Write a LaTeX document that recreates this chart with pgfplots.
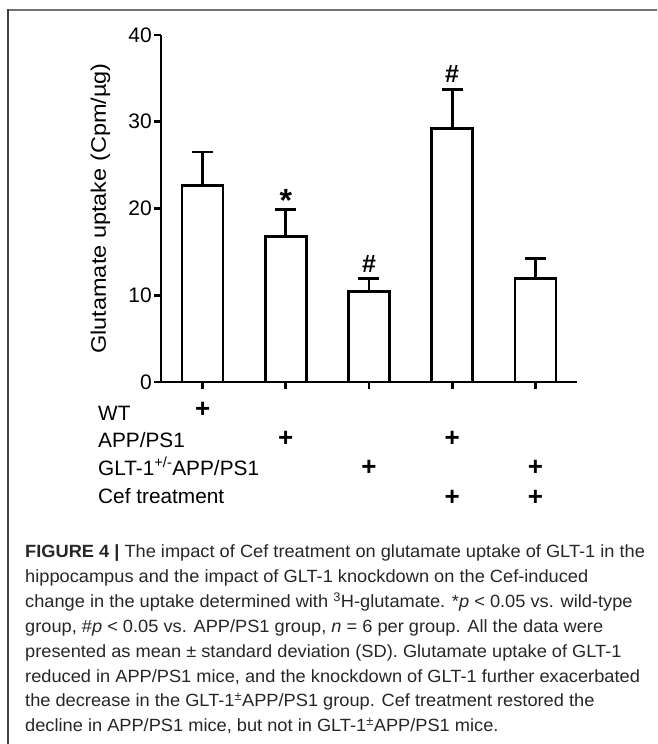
\documentclass[border=0pt]{standalone}
\usepackage{fontspec}
\setmainfont{Liberation Sans}
\newfontfamily\capfont{Liberation Sans}[FakeStretch=1.03]
\newfontfamily\labfont{Liberation Sans}[FakeStretch=1.12]
\usepackage{pgfplots}
\pgfplotsset{compat=1.18}
\begin{document}
\begin{tikzpicture}[x=1pt,y=1pt]
\begin{axis}[
  scale only axis, width=416pt, height=347pt,
  xmin=-0.5, xmax=4.5, ymin=0, ymax=40,
  axis x line*=bottom, axis y line*=left,
  axis line style={-, line width=2.7pt, black},
  ytick={0,10,20,30,40}, xtick={0,1,2,3,4}, xticklabels={},
  tick align=outside, major tick length=7pt,
  tick style={line width=2.7pt, black},
  yticklabel style={font=\fontsize{21}{24}\selectfont, inner sep=2pt},
  /pgf/number format/assume math mode=true,
  clip=false, ybar, bar width=41pt,
]
\addplot[fill=white, draw=black, line width=2.7pt,
  error bars/.cd, y dir=plus, y explicit,
  error bar style={line width=2.7pt, black},
  error mark options={rotate=90, mark size=10.5pt, line width=2.7pt, black}]
  coordinates {(0,22.65) +- (0,3.85) (1,16.8) +- (0,3.05) (2,10.4) +- (0,1.5) (3,29.2) +- (0,4.5) (4,11.9) +- (0,2.3)};
\node[font=\bfseries\fontsize{32}{34}\selectfont, anchor=base, inner sep=0] at (axis cs:1,19.64) {*};
\node[font=\fontsize{25}{27}\selectfont, anchor=base, inner sep=0, line width=0.6pt, draw=none] at (axis cs:2,12.68) {\textbf{\#}};
\node[font=\fontsize{25}{27}\selectfont, anchor=base, inner sep=0] at (axis cs:3,34.58) {\textbf{\#}};
\coordinate (O) at (rel axis cs:0,0);
\end{axis}
\begin{scope}[shift={(O)}, xshift=-161pt, yshift=-362pt]
\draw[line width=2pt, black!55] (8,734) -- (657,734);
\draw[line width=2pt, black!75] (8,735) -- (8,0);
\node[rotate=90, font=\labfont\fontsize{21}{24}\selectfont] at (100.5,535.5) {Glutamate uptake (Cpm/µg)};
\begin{scope}[every node/.style={anchor=base west, inner sep=0, font=\fontsize{20.8}{24}\selectfont}]
\node at (98,324) {WT};
\node at (98,297) {APP/PS1};
\node at (98,269) {GLT-1\textsuperscript{+/-}APP/PS1};
\node at (98,241) {Cef treatment};
\end{scope}
\begin{scope}[every node/.style={anchor=base, inner sep=0, font=\bfseries\fontsize{26}{28}\selectfont}]
\node at (202.6,326.9) {+};
\node at (285.8,297.9) {+};
\node at (452.2,297.9) {+};
\node at (369,268.9) {+};
\node at (535.4,268.9) {+};
\node at (452.2,238.9) {+};
\node at (535.4,238.9) {+};
\end{scope}
\begin{scope}[every node/.style={anchor=base west, inner sep=0, text=black!85, font=\capfont\fontsize{17.7}{20}\selectfont}]
\node at (25,186.3) {{\bfseries FIGURE 4 |} The impact of Cef treatment on glutamate uptake of GLT-1 in the};
\node at (25,161.4) {hippocampus and the impact of GLT-1 knockdown on the Cef-induced};
\node at (25,136.6) {change in the uptake determined with \textsuperscript{3}H-glutamate. *\textit{p} < 0.05 vs. wild-type};
\node at (25,111.7) {group, \#\textit{p} < 0.05 vs. APP/PS1 group, \textit{n} = 6 per group. All the data were};
\node at (25,86.9) {presented as mean ± standard deviation (SD). Glutamate uptake of GLT-1};
\node at (25,62.0) {reduced in APP/PS1 mice, and the knockdown of GLT-1 further exacerbated};
\node at (25,37.1) {the decrease in the GLT-1\textsuperscript{±}APP/PS1 group. Cef treatment restored the};
\node at (25,12.3) {decline in APP/PS1 mice, but not in GLT-1\textsuperscript{±}APP/PS1 mice.};
\end{scope}
\pgfresetboundingbox
\path[use as bounding box] (0,0) rectangle (657,744);
\end{scope}
\end{tikzpicture}
\end{document}
